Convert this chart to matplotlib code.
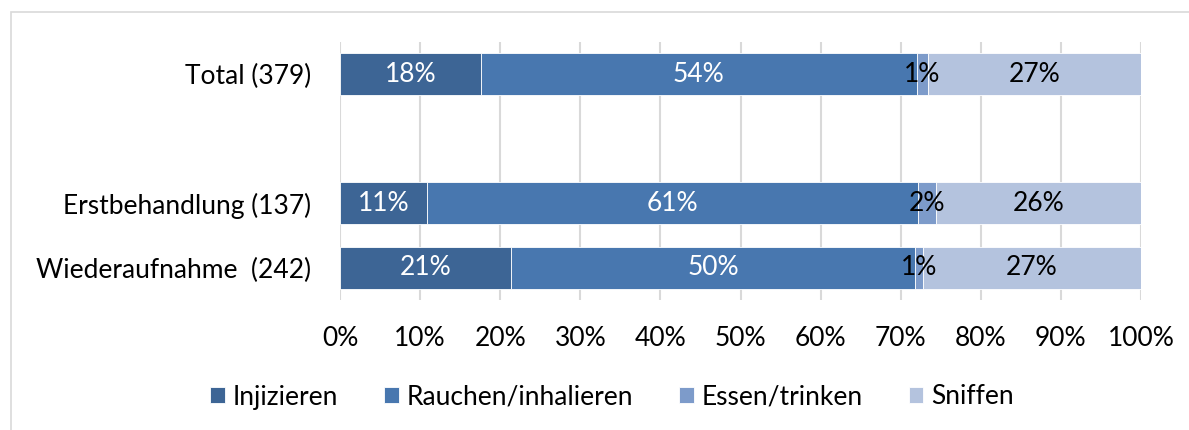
import matplotlib
matplotlib.use("Agg")
import matplotlib.pyplot as plt
from matplotlib.patches import Rectangle
import numpy as np

plt.rcParams["font.family"] = ["Lato", "DejaVu Sans"]

# rows top -> bottom; empty slot between Total and the two groups
categories = ["Total (379)", "", "Erstbehandlung (137)", "Wiederaufnahme  (242)"]
series_names = ["Injizieren", "Rauchen/inhalieren", "Essen/trinken", "Sniffen"]
injizieren = [17.6, np.nan, 10.9, 21.4]
rauchen    = [54.4, np.nan, 61.3, 50.4]
essen      = [1.4,  np.nan, 2.2,  1.0]
sniffen    = [26.6, np.nan, 25.6, 27.2]

colors = ["#3d6595", "#4877af", "#7d9bca", "#b4c3de"]
label_colors = ["white", "white", "black", "black"]
FS = 19

fig = plt.figure(figsize=(11.89, 4.30), dpi=100)
W, H = 1189, 430
ax = fig.add_axes([340 / W, 1 - 300 / H, (1141 - 340) / W, (300 - 42) / H])

# chart frame (only top and left visible in the crop)
fig.patches.append(Rectangle((11 / W, -0.1), 1.2, 1 - 12 / H + 0.1,
                             transform=fig.transFigure, fill=False,
                             edgecolor="#d9d9d9", linewidth=1.2))

y = np.arange(len(categories))
left = np.zeros(len(categories))
for vals, name, col, lc in zip([injizieren, rauchen, essen, sniffen],
                               series_names, colors, label_colors):
    v = np.array(vals, dtype=float)
    ok = np.isfinite(v)
    ax.barh(y[ok], v[ok], left=left[ok], height=0.65, color=col,
            edgecolor="white", linewidth=0.6, label=name, zorder=3)
    for yi in y[ok]:
        ax.text(left[yi] + v[yi] / 2, yi, f"{v[yi]:.0f}%", ha="center",
                va="center", color=lc, fontsize=FS, zorder=4)
    left = left + np.nan_to_num(v)

ax.set_xlim(0, 100)
ax.set_ylim(3.5, -0.5)
ax.set_xticks(np.arange(0, 101, 10))
ax.set_xticklabels([f"{t}%" for t in range(0, 101, 10)], fontsize=FS)
ax.set_yticks(y)
ax.set_yticklabels(categories, fontsize=FS)
ax.tick_params(axis="both", length=0)
ax.tick_params(axis="x", pad=19)
ax.tick_params(axis="y", pad=21)
ax.grid(axis="x", color="#d9d9d9", linewidth=1.5, zorder=0)
for s in ax.spines.values():
    s.set_visible(False)

leg = fig.legend(loc="center", bbox_to_anchor=(612 / W, 1 - 397 / H), ncol=4,
                 frameon=False, fontsize=FS, handlelength=0.55,
                 handleheight=0.55, handletextpad=0.3, columnspacing=1.75)

fig.savefig("out.png", dpi=100, facecolor="white")
